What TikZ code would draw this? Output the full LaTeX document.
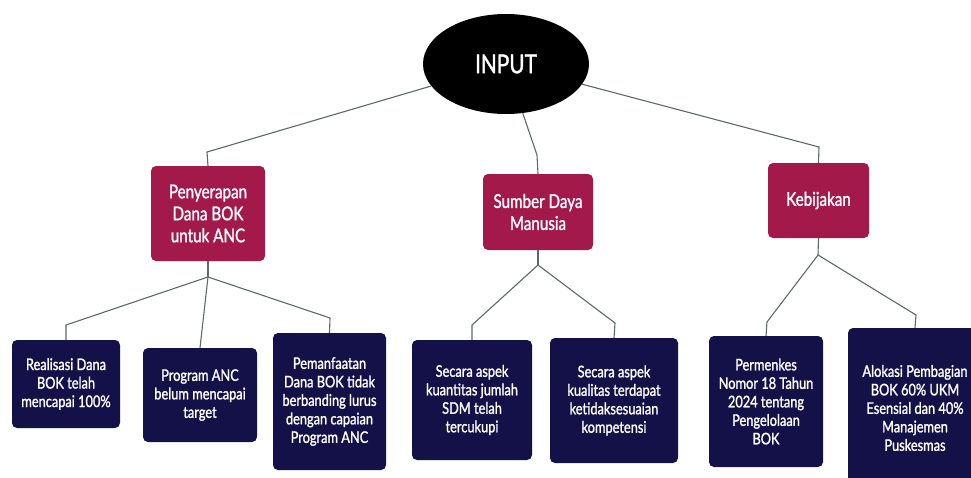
\documentclass[tikz,border=0pt]{standalone}
\usepackage{fontspec}
\setmainfont{Lato}[FakeStretch=0.8, FakeBold=1.3]
\usetikzlibrary{shapes.geometric}

\definecolor{crimson}{RGB}{163,26,74}
\definecolor{navy}{RGB}{19,17,72}
\definecolor{linkgray}{RGB}{95,104,104}

\tikzset{
  rootnode/.style={ellipse, fill=black, text=white, inner sep=0pt,
    minimum width=166pt, minimum height=100pt, font=\fontsize{26}{30}\selectfont},
  topbox/.style={fill=crimson, text=white, rounded corners=5pt, align=center,
    inner sep=0pt, font=\fontsize{19}{22}\selectfont},
  subbox/.style={fill=navy, text=white, rounded corners=5pt, align=center,
    inner sep=0pt, font=\fontsize{16}{18.5}\selectfont},
  link/.style={draw=linkgray, line width=1.1pt},
}

\begin{document}
\begin{tikzpicture}[x=1pt, y=-1pt]
  \useasboundingbox (0,0) rectangle (971,477);

  % Input
  \node[rootnode] (input) at (506,64) {INPUT};

  % Level 1
  \node[topbox, minimum width=114pt, minimum height=95pt] (serap) at (208,213.5)
    {Penyerapan\\Dana BOK\\untuk ANC};
  \node[topbox, minimum width=110pt, minimum height=76pt] (sdm) at (538,212)
    {Sumber Daya\\Manusia};
  \node[topbox, minimum width=101pt, minimum height=75pt] (bijak) at (818.5,200.5)
    {Kebijakan};

  % Level 2, Penyerapan
  \node[subbox, minimum width=108pt, minimum height=88pt] (realisasi) at (66,384)
    {Realisasi Dana\\BOK telah\\mencapai 100\%};
  \node[subbox, minimum width=114pt, minimum height=94pt] (target) at (200,395)
    {Program ANC\\belum mencapai\\target};
  \node[subbox, minimum width=113pt, minimum height=137pt] (manfaat) at (329.5,401.5)
    {Pemanfaatan\\Dana BOK tidak\\berbanding lurus\\dengan capaian\\Program ANC};

  % Level 2, SDM
  \node[subbox, minimum width=120pt, minimum height=120pt] (kuantitas) at (472,400)
    {Secara aspek\\kuantitas jumlah\\SDM telah\\tercukupi};
  \node[subbox, minimum width=128pt, minimum height=125pt] (kualitas) at (614,400.5)
    {Secara aspek\\kualitas terdapat\\ketidaksesuaian\\kompetensi};

  % Level 2, Kebijakan
  \node[subbox, minimum width=114pt, minimum height=131pt] (permenkes) at (766,401.5)
    {Permenkes\\Nomor 18 Tahun\\2024 tentang\\Pengelolaan\\BOK};
  \node[subbox, minimum width=134pt, minimum height=160pt] (alokasi) at (915,408)
    {Alokasi Pembagian\\BOK 60\% UKM\\Esensial dan 40\%\\Manajemen\\Puskesmas};

  % Junctions
  \coordinate (j1) at (208,277);
  \coordinate (j2) at (538,265);
  \coordinate (j3) at (818,255);

  % Connectors from input
  \draw[link] (input) -- (207,152) -- (serap.north);
  \draw[link] (input) -- (537,155) -- (sdm.north);
  \draw[link] (input) -- (819,147) -- (bijak.north);

  % Connectors below level 1
  \draw[link] (serap.south) -- (j1);
  \draw[link] (j1) -- (66,325) -- (realisasi.north);
  \draw[link] (j1) -- (target.north);
  \draw[link] (j1) -- (330,318) -- (manfaat.north);

  \draw[link] (sdm.south) -- (j2);
  \draw[link] (j2) -- (472,325) -- (kuantitas.north);
  \draw[link] (j2) -- (615,323) -- (kualitas.north);

  \draw[link] (bijak.south) -- (j3);
  \draw[link] (j3) -- (767,322) -- (permenkes.north);
  \draw[link] (j3) -- (916,315) -- (alokasi.north);
\end{tikzpicture}
\end{document}
